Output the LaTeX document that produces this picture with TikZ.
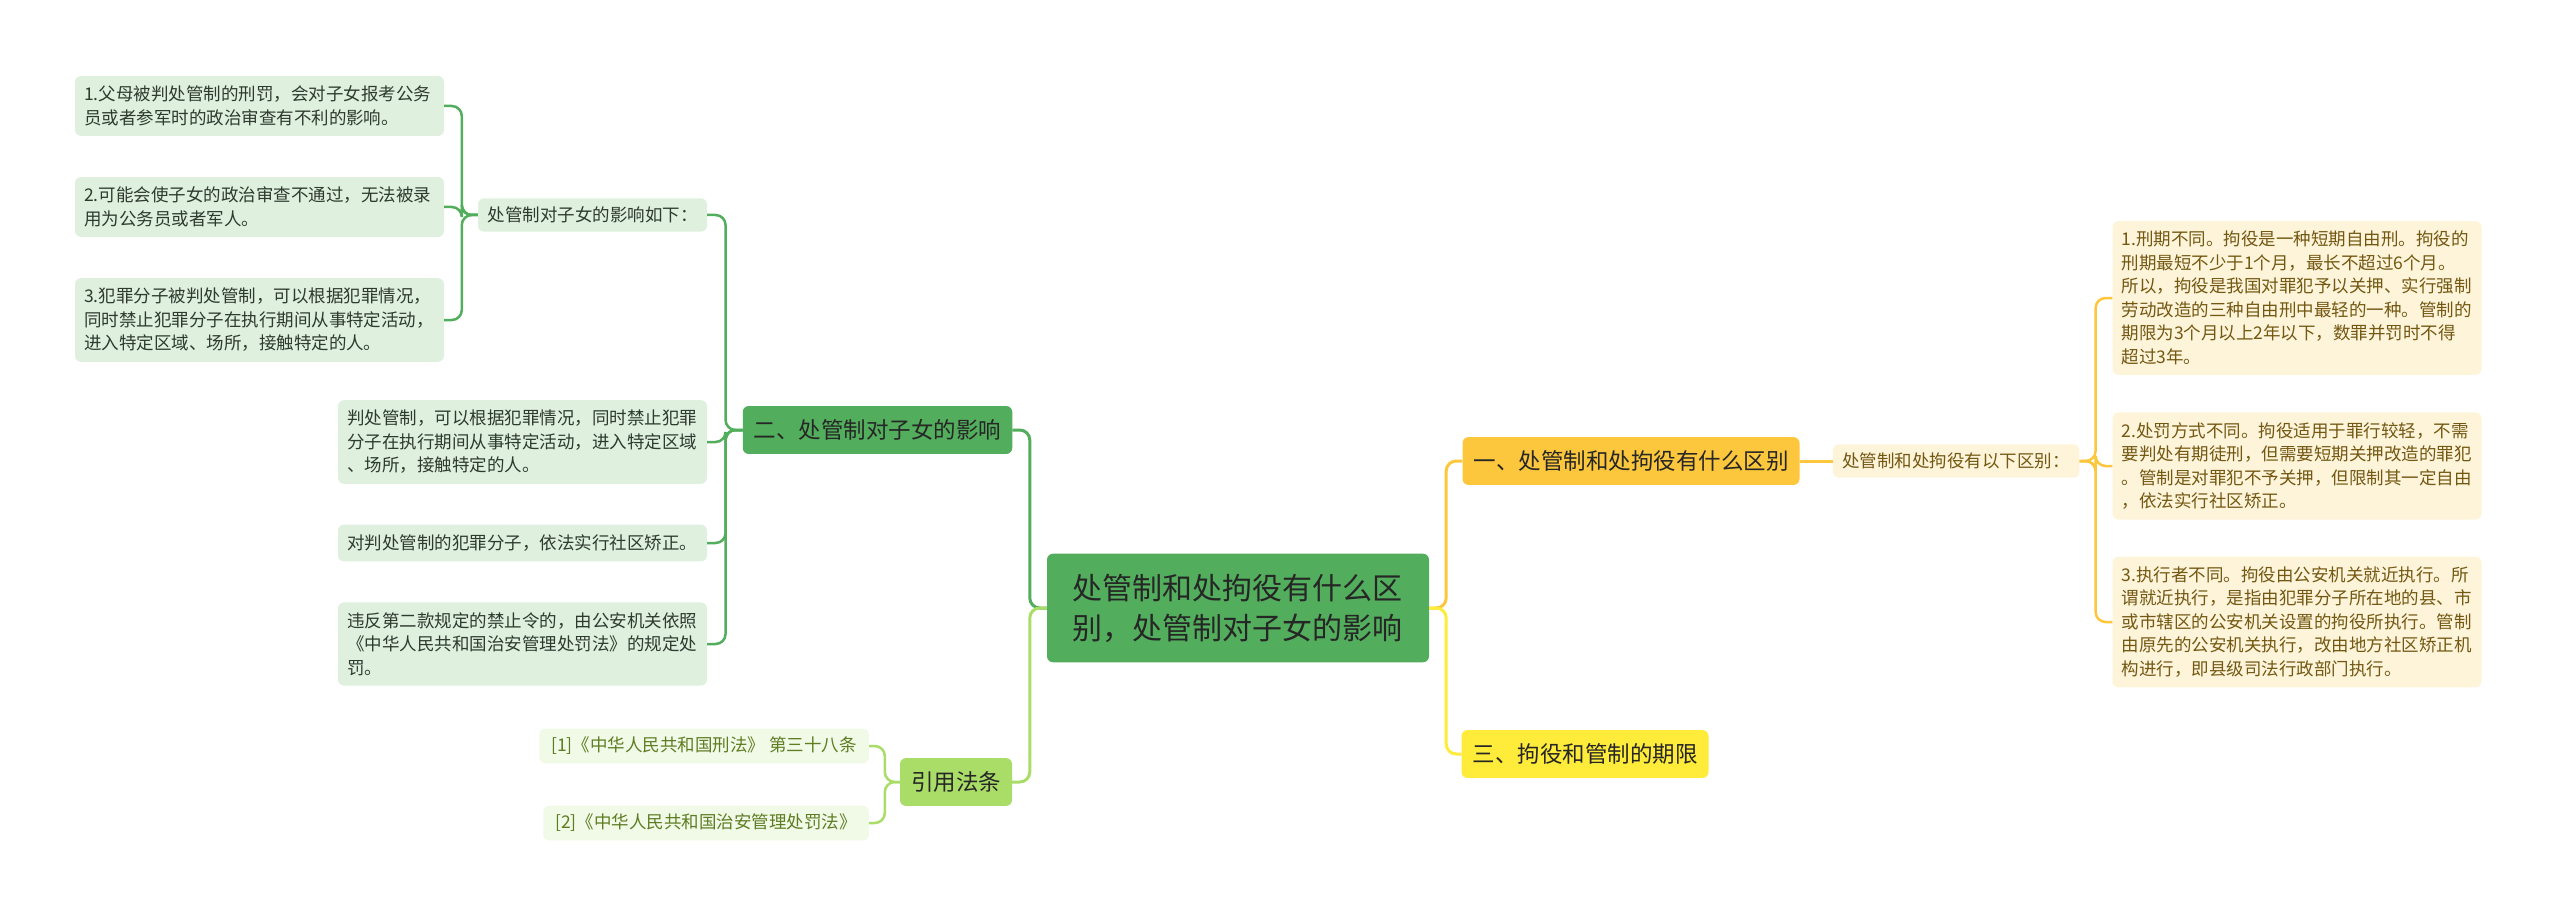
\documentclass[tikz,border=0pt]{standalone}
\usepackage{fontspec}
\setmainfont{Noto Sans CJK SC}
\usetikzlibrary{positioning}

\definecolor{gdark}{HTML}{52AD5C}
\definecolor{gleaf}{HTML}{DFF0DF}
\definecolor{glime}{HTML}{A9DD67}
\definecolor{limeleaf}{HTML}{F1F9E7}
\definecolor{limetext}{HTML}{5E7D22}
\definecolor{amber}{HTML}{FCC73C}
\definecolor{cream}{HTML}{FEF4DA}
\definecolor{browntext}{HTML}{735812}
\definecolor{yellowbr}{HTML}{FEEB3A}
\definecolor{inktext}{HTML}{2E3A2E}

\begin{document}
\begin{tikzpicture}[x=1pt, y=-1pt,
    every node/.style={rounded corners=6pt, align=left},
    leaf/.style={text width=351pt, inner xsep=9pt, inner ysep=10pt,
        font={\fontsize{17.5}{23.5}\selectfont}},
    sub/.style={inner xsep=9.5pt, inner ysep=8.5pt,
        font={\fontsize{17.5}{23.5}\selectfont}},
    topic/.style={inner xsep=11pt, inner ysep=13.5pt, text=black!85,
        font={\fontsize{22.5}{28}\selectfont}},
    link/.style={line width=3pt, rounded corners=10pt},
    twig/.style={line width=2.5pt, rounded corners=10pt}]

    % canvas
    \path[fill=white, use as bounding box] (0,0) rectangle (2560,920);

    % centre
    \node[fill=gdark, text=black!85, text width=332pt, inner xsep=25pt, inner ysep=20pt,
        font={\fontsize{30}{40}\selectfont}] (root) at (1238,608)
        {处管制和处拘役有什么区\\别，处管制对子女的影响};

    % left side: effect on children
    \node[topic, fill=gdark] (B2) at (877.5,430) {二、处管制对子女的影响};
    \node[sub, fill=gleaf, text=inktext] (M) at (592.5,215) {处管制对子女的影响如下：};

    \node[leaf, fill=gleaf, text=inktext] (L1) at (259.5,106)
        {1.父母被判处管制的刑罚，会对子女报考公务\\员或者参军时的政治审查有不利的影响。};
    \node[leaf, fill=gleaf, text=inktext] (L2) at (259.5,207)
        {2.可能会使子女的政治审查不通过，无法被录\\用为公务员或者军人。};
    \node[leaf, fill=gleaf, text=inktext] (L3) at (259.5,320)
        {3.犯罪分子被判处管制，可以根据犯罪情况，\\同时禁止犯罪分子在执行期间从事特定活动，\\进入特定区域、场所，接触特定的人。};

    \node[leaf, fill=gleaf, text=inktext] (K1) at (522.5,442)
        {判处管制，可以根据犯罪情况，同时禁止犯罪\\分子在执行期间从事特定活动，进入特定区域\\、场所，接触特定的人。};
    \node[leaf, fill=gleaf, text=inktext] (K2) at (522.5,543)
        {对判处管制的犯罪分子，依法实行社区矫正。};
    \node[leaf, fill=gleaf, text=inktext] (K3) at (522.5,644)
        {违反第二款规定的禁止令的，由公安机关依照\\《中华人民共和国治安管理处罚法》的规定处\\罚。};

    % left side: cited law
    \node[topic, fill=glime] (B4) at (956,782) {引用法条};
    \node[sub, fill=limeleaf, text=limetext, inner xsep=12pt, anchor=east] (R1) at (869,746)
        {[1]《中华人民共和国刑法》 第三十八条};
    \node[sub, fill=limeleaf, text=limetext, inner xsep=12pt, anchor=east] (R2) at (869,823)
        {[2]《中华人民共和国治安管理处罚法》};

    % right side
    \node[topic, fill=amber] (B1) at (1631,461) {一、处管制和处拘役有什么区别};
    \node[sub, fill=cream, text=browntext, right=33pt of B1] (D) {处管制和处拘役有以下区别：};
    \node[topic, fill=yellowbr] (B3) at (1585,754) {三、拘役和管制的期限};

    \node[leaf, fill=cream, text=browntext] (P1) at (2297,298)
        {1.刑期不同。拘役是一种短期自由刑。拘役的\\刑期最短不少于1个月，最长不超过6个月。\\所以，拘役是我国对罪犯予以关押、实行强制\\劳动改造的三种自由刑中最轻的一种。管制的\\期限为3个月以上2年以下，数罪并罚时不得\\超过3年。};
    \node[leaf, fill=cream, text=browntext] (P2) at (2297,466)
        {2.处罚方式不同。拘役适用于罪行较轻，不需\\要判处有期徒刑，但需要短期关押改造的罪犯\\。管制是对罪犯不予关押，但限制其一定自由\\，依法实行社区矫正。};
    \node[leaf, fill=cream, text=browntext] (P3) at (2297,622)
        {3.执行者不同。拘役由公安机关就近执行。所\\谓就近执行，是指由犯罪分子所在地的县、市\\或市辖区的公安机关设置的拘役所执行。管制\\由原先的公安机关执行，改由地方社区矫正机\\构进行，即县级司法行政部门执行。};

    % connectors, centre
    \draw[link, gdark] (B2.east) -| ([xshift=-17pt]root.west) [sharp corners] -- (root.west);
    \draw[link, glime] (B4.east) -| ([xshift=-17pt]root.west) [sharp corners] -- (root.west);
    \draw[link, amber] (B1.west) -| ([xshift=17pt]root.east) [sharp corners] -- (root.east);
    \draw[link, yellowbr] (B3.west) -| ([xshift=17pt]root.east) [sharp corners] -- (root.east);

    % connectors, branches
    \foreach \c in {M,K1,K2,K3}
        \draw[twig, gdark] (\c.east) -| ([xshift=-17pt]B2.west) [sharp corners] -- (B2.west);
    \foreach \c in {L1,L2,L3}
        \draw[twig, gdark] (\c.east) -| ([xshift=-16pt]M.west) [sharp corners] -- (M.west);
    \foreach \c in {R1,R2}
        \draw[twig, glime] (\c.east) -| ([xshift=-15pt]B4.west) [sharp corners] -- (B4.west);
    \draw[link, amber] (B1.east) -- (D.west);
    \foreach \c in {P1,P2,P3}
        \draw[twig, amber] (\c.west) -| ([xshift=16pt]D.east) [sharp corners] -- (D.east);
\end{tikzpicture}
\end{document}
